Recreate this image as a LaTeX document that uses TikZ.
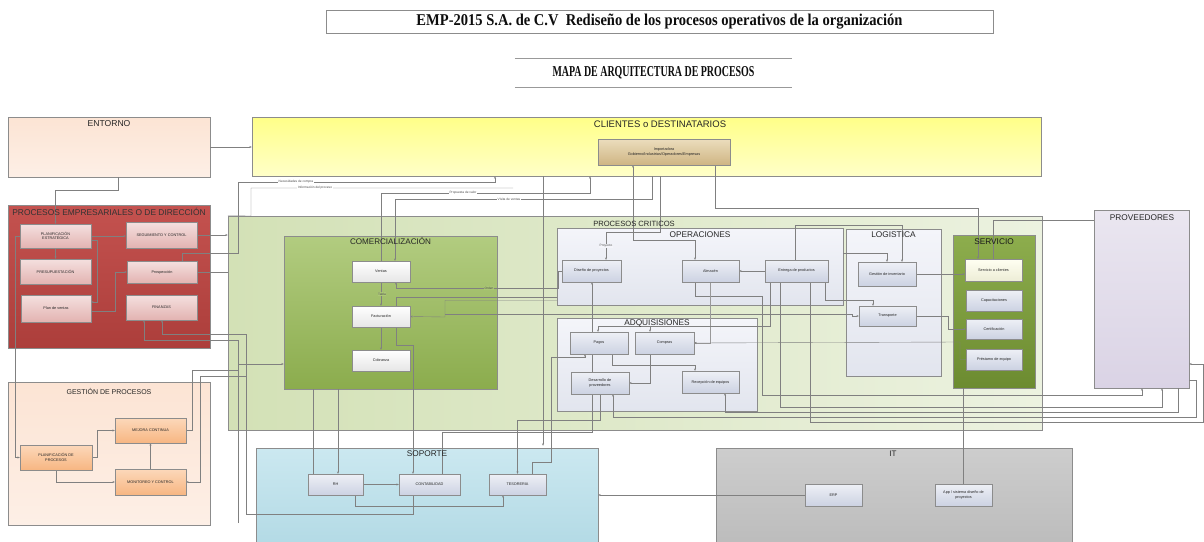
\documentclass[tikz,border=0pt]{standalone}
\usepackage{graphicx}
\usepackage{fontspec}
\setmainfont{Liberation Sans}
\newfontfamily\headserif{Liberation Serif}
\usetikzlibrary{arrows.meta,calc,shadows}
\pgfdeclarelayer{bg}
\pgfdeclarelayer{wires}
\pgfsetlayers{bg,wires,main}
\newcommand\smtxt{\fontsize{3.8}{4.4}\selectfont}
\newcommand\lbtxt{\fontsize{3.2}{3.6}\selectfont}
% palette
\definecolor{envA}{HTML}{FCE4D4}\definecolor{envB}{HTML}{FDEFE6}
\definecolor{redA}{HTML}{C4524F}\definecolor{redB}{HTML}{AC3E3B}
\definecolor{pinkA}{HTML}{F4E0DF}\definecolor{pinkB}{HTML}{E3B3B1}
\definecolor{orA}{HTML}{FCD8BA}\definecolor{orB}{HTML}{F7B682}
\definecolor{yelA}{HTML}{FFFF88}\definecolor{yelB}{HTML}{FFFFC8}
\definecolor{tanA}{HTML}{EBDDBD}\definecolor{tanB}{HTML}{CFB583}
\definecolor{pcA}{HTML}{D3E1B6}\definecolor{pcB}{HTML}{ECF2E0}
\definecolor{grA}{HTML}{B2CC80}\definecolor{grB}{HTML}{8BAC4D}
\definecolor{whB}{HTML}{E6E6E6}
\definecolor{opA}{HTML}{F4F5FA}\definecolor{opB}{HTML}{E2E5EE}
\definecolor{lavA}{HTML}{EEF0F6}\definecolor{lavB}{HTML}{CCD2E2}
\definecolor{svA}{HTML}{8DAD4D}\definecolor{svB}{HTML}{6C8B30}
\definecolor{creA}{HTML}{FFFFF2}\definecolor{creB}{HTML}{EDEDD6}
\definecolor{prA}{HTML}{EAE6F0}\definecolor{prB}{HTML}{DAD3E5}
\definecolor{blA}{HTML}{CBE8F0}\definecolor{blB}{HTML}{B3DAE5}
\definecolor{itA}{HTML}{CDCDCD}\definecolor{itB}{HTML}{BCBCBC}
\begin{document}
\begin{tikzpicture}[x=1pt,y=-1pt,
  area/.style={draw=black!45,line width=0.5pt,inner sep=0pt,rectangle},
  box/.style={draw=black!45,line width=0.35pt,inner sep=1pt,align=center,font=\smtxt,text=black!85,
     drop shadow={shadow xshift=0.8pt,shadow yshift=-0.8pt,opacity=0.35}},
  pinkbox/.style={box,top color=pinkA,bottom color=pinkB},
  orbox/.style={box,top color=orA,bottom color=orB},
  whbox/.style={box,top color=white,bottom color=whB},
  lavbox/.style={box,top color=lavA,bottom color=lavB},
  hd/.style={font=\fontsize{#1}{#1}\selectfont,text=black!85,inner sep=0pt},
  hd/.default=8.3,
  ln/.style={draw=black!50,line width=0.38pt},
  ar/.style={ln,-{Stealth[length=2.4pt,width=2pt]}},
  arr/.style={ln,{Stealth[length=2.4pt,width=2pt]}-{Stealth[length=2.4pt,width=2pt]}},
  lbl/.style={font=\lbtxt,text=black!70,inner sep=0.6pt}
]
\begin{pgfonlayer}{bg}
\useasboundingbox[fill=white] (0,0) rectangle (1204,541);
% ---- group areas
\node[area,top color=envA,bottom color=envB,minimum width=202,minimum height=60] (env) at (109,147) {};
\node[area,top color=redA,bottom color=redB,minimum width=202,minimum height=143] (pe) at (109,276.5) {};
\node[area,top color=envA,bottom color=envB,minimum width=202,minimum height=143] (gp) at (109,453.5) {};
\node[area,top color=yelA,bottom color=yelB,minimum width=789,minimum height=59] (cli) at (646.5,146.5) {};
\node[area,left color=pcA,right color=pcB,minimum width=814,minimum height=214] (pcrit) at (635,323) {};
\node[area,top color=grA,bottom color=grB,minimum width=213,minimum height=153] (com) at (390.5,312.5) {};
\node[area,top color=opA,bottom color=opB,minimum width=286,minimum height=77] (oper) at (700,266.5) {};
\node[area,top color=opA,bottom color=opB,minimum width=200,minimum height=93] (adq) at (657,364.5) {};
\node[area,top color=opA,bottom color=opB,minimum width=95,minimum height=147] (log) at (893.5,302.5) {};
\node[area,top color=svA,bottom color=svB,minimum width=82,minimum height=153] (serv) at (994,311.5) {};
\node[area,top color=prA,bottom color=prB,minimum width=95,minimum height=178] (prov) at (1141.5,299) {};
\node[area,top color=blA,bottom color=blB,minimum width=342,minimum height=97] (sop) at (427,496.5) {};
\node[area,top color=itA,bottom color=itB,minimum width=356,minimum height=97] (it) at (894,496.5) {};
\end{pgfonlayer}

% ---- headings
\node[draw=black!45,line width=0.5pt,minimum width=667,minimum height=23,inner sep=0pt,text=black!95] (t1) at (659.5,21.5)
  {\resizebox{486pt}{11.5pt}{\headserif\bfseries EMP-2015 S.A. de C.V\ \ Rediseño de los procesos operativos de la organización}};
\node[minimum width=277,minimum height=29,inner sep=0pt,text=black!95] (t2) at (653.5,72.5)
  {\resizebox{202pt}{10pt}{\headserif\bfseries MAPA DE ARQUITECTURA DE PROCESOS}};
\draw[black!40,line width=0.5pt] (t2.north west) -- (t2.north east);
\draw[black!40,line width=0.5pt] (t2.south west) -- (t2.south east);

\node[hd=8.6] at (109,123.5) {ENTORNO};
\node[hd=8.4,text=black!80] at (109,212) {PROCESOS EMPRESARIALES O DE DIRECCIÓN};
\node[hd=7] at (109,391) {GESTIÓN DE PROCESOS};
\node[hd=9.5] at (660,124.5) {CLIENTES o DESTINATARIOS};
\node[hd=7.6] at (634,224) {PROCESOS CRITICOS};
\node[hd=8.1] at (390.5,241.5) {COMERCIALIZACIÓN};
\node[hd] at (700,234.5) {OPERACIONES};
\node[hd] at (657,323.5) {ADQUISISIONES};
\node[hd] at (893.5,234.5) {LOGISTICA};
\node[hd,text=black!90] at (994,241.5) {SERVICIO};
\node[hd] at (1142,217.5) {PROVEEDORES};
\node[hd] at (427,454) {SOPORTE};
\node[hd=8] at (893,453.5) {IT};

% ---- process boxes
\node[pinkbox,minimum width=71,minimum height=24] (pest) at (55.5,236) {PLANIFICACIÓN\\ESTRATÉGICA};
\node[pinkbox,minimum width=71,minimum height=25] (pres) at (55.5,271.5) {PRESUPUESTACIÓN};
\node[pinkbox,minimum width=70,minimum height=27] (plan) at (56,308.5) {Plan de ventas};
\node[pinkbox,minimum width=71,minimum height=26] (seg) at (161.5,235) {SEGUIMIENTO Y CONTROL};
\node[pinkbox,minimum width=70,minimum height=22] (pros) at (162,272) {Prospección};
\node[pinkbox,minimum width=71,minimum height=25] (fin) at (161.5,307.5) {FINANZAS};

\node[orbox,minimum width=72,minimum height=25] (plproc) at (56,457.5) {PLANIFICACIÓN DE\\PROCESOS};
\node[orbox,minimum width=71,minimum height=25] (mej) at (150.5,430.5) {MEJORA CONTINUA};
\node[orbox,minimum width=71,minimum height=26] (mon) at (150.5,482) {MONITOREO Y CONTROL};

\node[box,top color=tanA,bottom color=tanB,minimum width=132,minimum height=26] (tan) at (664,152)
  {Importadora\\Gobierno/Industrias/Operadores/Empresas};

\node[whbox,minimum width=58,minimum height=21] (ven) at (381,271.5) {Ventas};
\node[whbox,minimum width=58,minimum height=21] (fac) at (381,316.5) {Facturación};
\node[whbox,minimum width=58,minimum height=21] (cob) at (381,360.5) {Cobranza};

\node[lavbox,minimum width=59,minimum height=22] (dis) at (591.5,271) {Diseño de proyectos};
\node[lavbox,minimum width=57,minimum height=22] (alm) at (710.5,271) {Almacén};
\node[lavbox,minimum width=63,minimum height=22] (ent) at (796.5,271) {Entrega de productos};

\node[lavbox,minimum width=58,minimum height=22] (pag) at (599,343) {Pagos};
\node[lavbox,minimum width=59,minimum height=22] (cmp) at (664.5,343) {Compras};
\node[lavbox,minimum width=58,minimum height=22] (des) at (600,383) {Desarrollo de\\proveedores};
\node[lavbox,minimum width=57,minimum height=22] (rec) at (710.5,382) {Recepción de equipos};

\node[lavbox,minimum width=58,minimum height=24] (ginv) at (887,274) {Gestión de inventario};
\node[lavbox,minimum width=57,minimum height=20] (tra) at (887.5,316) {Transporte};

\node[box,top color=creA,bottom color=creB,minimum width=57,minimum height=22] (scli) at (993.5,270) {Servicio a clientes};
\node[lavbox,minimum width=56,minimum height=21] (cap) at (994,300.5) {Capacitaciones};
\node[lavbox,minimum width=56,minimum height=20] (cert) at (994,329) {Certificación};
\node[lavbox,minimum width=56,minimum height=21] (prest) at (994,359.5) {Préstamo de equipo};

\node[lavbox,minimum width=55,minimum height=21] (rh) at (335.5,484.5) {RH};
\node[lavbox,minimum width=61,minimum height=21] (cont) at (429.5,484.5) {CONTABILIDAD};
\node[lavbox,minimum width=57,minimum height=21] (tes) at (517.5,484.5) {TESORERIA};

\node[lavbox,minimum width=57,minimum height=22] (erp) at (833.5,495) {ERP};
\node[lavbox,minimum width=57,minimum height=22] (app) at (963.5,495) {App / sistema diseño de\\proyectos};

% ---- connectors
\begin{pgfonlayer}{wires}
% direction and process management
\draw[ar] (env.east) -- (cli.west |- env.east);
\draw[ar] ($(env.south)+(9,0)$) |- (55.5,190) -- (pest.north);
\draw[ar] (pest.south) -- (pres.north);
\draw[ar] (pest.east) -- (seg.west |- pest.east);
\draw[ar] ($(pest.east)+(0,4)$) -| (97,302) -- ($(plan.east)+(0,-6.5)$);
\draw[ar] ($(plan.east)+(0,3)$) -| (115,272) -- (pros.west);
\draw[ar] (seg.east) -- (seg.east -| pcrit.west);
\draw[ln] (pros.east) -- (pros.east -| pcrit.west);
\draw[ar] ($(pros.north)+(20,0)$) |- (238,253) |- (495,182) -- ($(cli.south)+(-151.5,0)$);
\coordinate (infoend) at (513,188);
\draw[ln] (pcrit.north west) -- (251,216) |- (infoend);
\draw[ar] ($(cont.south)+(-16.5,0)$) |- (246,514) |- (162,334) -- ($(fin.south)+(0.5,0)$);
\coordinate (finlow) at (238,523);
\draw[ar] (finlow) |- (144,340) -- ($(fin.south)+(-17.5,0)$);
\draw[ar] (238,364) -- ($(com.west)+(0,51.5)$);
\draw[ar] (pest.west) -| (15,457.5) -- (plproc.west);
\draw[ar] (plproc.east) -| (97,430.5) -- (mej.west);
\draw[ar] (plproc.south) |- (mon.west);
\draw[ar] (mon.north) -- (mej.south);
\draw[ln] (mej.east) -| (192,370) -- (238,370);
\draw[ar] (246,376) -| (200,482) -- (mon.east);
% customers and sales
\draw[ar] (ven.north) |- (590,193) -- ($(cli.south)+(-56.5,0)$);
\draw[ar] ($(cli.south)+(5.5,0)$) |- (395,199) -- ($(ven.north)+(14,0)$);
\draw[ar] (ven.south) -- (fac.north);
\draw[ar] (fac.south) -- (cob.north);
\draw[ar] (dis.west) -| (558,288) -| ($(ven.south)+(15,0)$);
\draw[ar] ($(oper.south west)+(0,-8)$) -| (396,345) -| ($(cont.north)+(-16.5,0)$);
\draw[ar] ($(oper.south west)+(0,-5)$) -| (445,317) -- (fac.east);
\draw[ar] ($(fac.east)+(35,-2.5)$) -- (852,314) |- (tra.west);
\draw[ar] ($(cli.south)+(13.5,0)$) |- (606,232) -- ($(dis.north)+(14.5,0)$);
\draw[arr] ($(tan.south)+(-31,0)$) |- (695,240) -- ($(alm.north)+(-15.5,0)$);
\draw[ar] ($(cli.south)+(-103.5,0)$) -- ($(sop.north)+(116,-2)$);
% operations, purchasing, logistics
\draw[ar] (ent.west) -- (alm.east);
\draw[ar] ($(alm.south)+(-15.5,0)$) |- (762,296) |- (1142,395) -- ($(prov.south)+(0.5,0)$);
\draw[ar,black!40] (alm.south) |- (cmp.east);
\draw[ar] (prest.west) -| (960,342) -- (cmp.east);
\draw[ar] ($(ent.south)+(-26.5,0)$) |- (598,326) -- ($(pag.north)+(-1,0)$);
\draw[ar] (650,326) -- ($(cmp.north)+(-14.5,0)$);
\draw[ar] ($(ent.north)+(-1.5,0)$) |- (902,225) -- ($(ginv.north)+(15,0)$);
\draw[ar] ($(oper.east)+(0,-13.5)$) -| (ginv.north);
\draw[ar] ($(ent.south)+(28.5,0)$) |- (873,300) -- ($(tra.north)+(-14.5,0)$);
\draw[ar] ($(prov.south)+(36.5,0)$) |- (725,412) -- ($(rec.south)+(14.5,0)$);
\draw[ar] ($(ent.south)+(-16.5,0)$) |- (1162,407) -- ($(prov.south)+(20.5,0)$);
\draw[ar] ($(prov.south east)+(0,-8)$) -| (1196,417) -| ($(des.south)+(13,0)$);
\draw[ar] ($(ent.south)+(13.5,0)$) |- (1203,422) |- ($(prov.east)+(0,65)$);
\draw[ar] ($(pag.south)+(13,0)$) |- (695,365) -- ($(rec.north)+(-15.5,0)$);
\draw[ar] ($(cmp.south)+(-14.5,0)$) |- (des.east);
\draw[ar] (des.south) |- (517.5,420) -- (tes.north);
\draw[ar] ($(cont.north)+(12.5,0)$) |- (592,432) -- ($(dis.south)+(0.5,0)$);
% service
\draw[ar] ($(tan.south)+(51,0)$) |- (978,208) -- ($(scli.north)+(-15.5,0)$);
\draw[ln] (scli.north) |- ($(prov.north west)+(0,10)$);
\draw[ar] (ginv.east) -- (ginv.east -| scli.west);
\draw[ar] (tra.east) -| (948,329) -- (cert.west);
% support and IT
\draw[ar] ($(com.south)+(-52.5,0)$) -- ($(rh.north)+(2.5,0)$);
\draw[ln] ($(com.south)+(-77.5,0)$) -- ($(rh.north)+(-22.5,0)$);
\draw[ar] (rh.east) -- (cont.west);
\draw[ar] ($(rh.south)+(19.5,0)$) |- (503,506) -- ($(tes.south)+(-14.5,0)$);
\draw[ar] ($(tes.north)+(14.5,0)$) |- (551,462) |- (585,357) -- ($(pag.south)+(-14,0)$);
\draw[ar] (erp.west) -- (erp.west -| sop.east);
\draw[ln] (app.north) -- (app.north |- serv.south);
% line labels
\node[lbl,fill=white] at (296,182) {Necesidades de compra};
\node[lbl,fill=white] at (315,188) {Información del proceso};
\node[lbl,fill=white] at (463,193) {Propuesta de valor};
\node[lbl,fill=white] at (509,199) {Visita de ventas};
\node[lbl,fill=grA!85!grB] at (382,294) {Tabla};
\node[lbl,fill=grA!80!grB] at (489,288) {Orden};
\node[lbl,fill=opA] at (606,246) {Proyecto};
\end{pgfonlayer}
\end{tikzpicture}
\end{document}
